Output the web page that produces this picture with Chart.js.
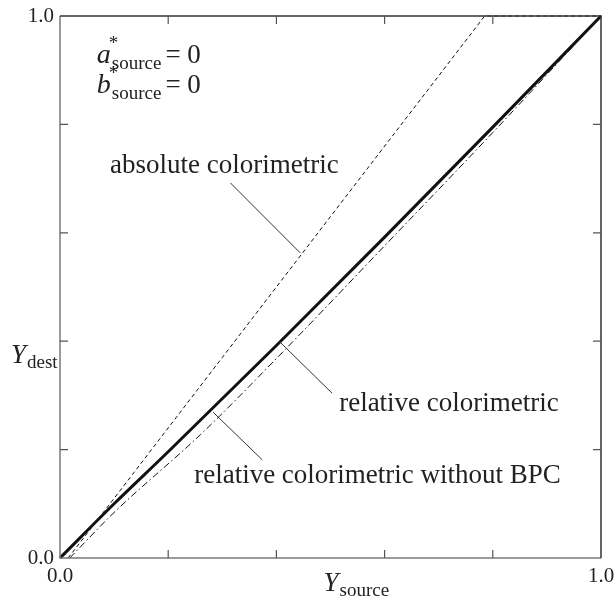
<!DOCTYPE html>
<html>
<head>
<meta charset="utf-8">
<script src="https://cdn.jsdelivr.net/npm/chart.js@4.4.0/dist/chart.umd.min.js"></script>
<style>
  html, body { margin: 0; padding: 0; background: #fff; }
</style>
</head>
<body>
<canvas id="myChart" width="615" height="601"></canvas>
<script>
// curves (Y_source -> Y_dest)
const absX = [0.015, 0.1, 0.3, 0.5, 0.785, 1.0];
const absY = [0, 0.11, 0.37, 0.63, 1.0, 1.0];

const relX = [0, 0.1, 0.2, 0.4, 0.6, 0.8, 1.0];
const relY = [0, 0.1, 0.196, 0.392, 0.592, 0.795, 1.0];

const noBpcX = [0.018, 0.1, 0.26, 0.4, 0.6, 0.8, 0.9, 1.0];
const noBpcY = [0, 0.084, 0.228, 0.368, 0.576, 0.785, 0.892, 1.0];

const tickVals = [0, 0.2, 0.4, 0.6, 0.8, 1.0];

const SERIF = '"Liberation Serif", "DejaVu Serif", serif';

function toPts(xs, ys) {
    return xs.map((x, i) => ({ x: x, y: ys[i] }));
}

// label + leader line positions, in data units
const notes = [
    { text: 'absolute colorimetric', at: [0.0925, 0.710], from: [0.315, 0.692], to: [0.444, 0.563] },
    { text: 'relative colorimetric', at: [0.516, 0.271], from: [0.503, 0.304], to: [0.405, 0.400] },
    { text: 'relative colorimetric without BPC', at: [0.248, 0.138], from: [0.374, 0.181], to: [0.283, 0.269] }
];

function subText(ctx, x, y, main, sup, sub, rest, size, subSize) {
    ctx.textAlign = 'left';
    ctx.textBaseline = 'alphabetic';
    ctx.font = 'italic ' + size + 'px ' + SERIF;
    ctx.fillText(main, x, y);
    let cx = x + ctx.measureText(main).width;
    ctx.font = subSize + 'px ' + SERIF;
    if (sup) {
        ctx.fillText(sup, cx - 2, y - size * 0.5);
    }
    ctx.fillText(sub, cx + 1, y + size * 0.2);
    cx += 1 + ctx.measureText(sub).width;
    if (rest) {
        ctx.font = Math.round(size * 0.95) + 'px ' + SERIF;
        ctx.fillText(rest, cx + 4, y);
    }
}

const framePlugin = {
    id: 'frame',
    afterDraw(chart) {
        const ctx = chart.ctx;
        const a = chart.chartArea;
        const xs = chart.scales.x, ys = chart.scales.y;
        ctx.save();
        ctx.lineWidth = 1.5;
        ctx.strokeStyle = '#7a7a7a';
        ctx.beginPath();
        ctx.moveTo(a.left, a.top);
        ctx.lineTo(a.left, a.bottom);
        ctx.lineTo(a.right, a.bottom);
        ctx.stroke();
        ctx.strokeStyle = '#333';
        ctx.beginPath();
        ctx.moveTo(a.left, a.top);
        ctx.lineTo(a.right, a.top);
        ctx.lineTo(a.right, a.bottom);
        ctx.stroke();

        // inward ticks on all four sides
        ctx.lineWidth = 1.2;
        ctx.strokeStyle = '#555';
        tickVals.slice(1, -1).forEach(v => {
            const px = xs.getPixelForValue(v);
            const py = ys.getPixelForValue(v);
            ctx.beginPath();
            ctx.moveTo(px, a.bottom); ctx.lineTo(px, a.bottom - 8);
            ctx.moveTo(px, a.top); ctx.lineTo(px, a.top + 8);
            ctx.moveTo(a.left, py); ctx.lineTo(a.left + 8, py);
            ctx.moveTo(a.right, py); ctx.lineTo(a.right - 8, py);
            ctx.stroke();
        });

        // leaders and labels
        ctx.fillStyle = '#222';
        ctx.strokeStyle = '#333';
        ctx.lineWidth = 1;
        notes.forEach(n => {
            ctx.beginPath();
            ctx.moveTo(xs.getPixelForValue(n.from[0]), ys.getPixelForValue(n.from[1]));
            ctx.lineTo(xs.getPixelForValue(n.to[0]), ys.getPixelForValue(n.to[1]));
            ctx.stroke();
            ctx.font = '27px ' + SERIF;
            ctx.textAlign = 'left';
            ctx.textBaseline = 'alphabetic';
            ctx.fillText(n.text, xs.getPixelForValue(n.at[0]), ys.getPixelForValue(n.at[1]));
        });

        subText(ctx, xs.getPixelForValue(0.068), ys.getPixelForValue(0.913), 'a', '*', 'source', '= 0', 28, 19);
        subText(ctx, xs.getPixelForValue(0.068), ys.getPixelForValue(0.858), 'b', '*', 'source', '= 0', 28, 19);

        // axis titles
        subText(ctx, 11, ys.getPixelForValue(0.36), 'Y', null, 'dest', null, 27, 19);
        subText(ctx, xs.getPixelForValue(0.487), 591, 'Y', null, 'source', null, 27, 19);
        ctx.restore();
    }
};

const data = {
    datasets: [
        {
            label: 'absolute colorimetric',
            data: toPts(absX, absY),
            borderColor: '#111',
            borderWidth: 1,
            borderDash: [4, 3],
            pointRadius: 0,
            showLine: true,
            clip: 4
        },
        {
            label: 'relative colorimetric without BPC',
            data: toPts(noBpcX, noBpcY),
            borderColor: '#111',
            borderWidth: 1,
            borderDash: [7, 3, 1.5, 3],
            pointRadius: 0,
            showLine: true,
            cubicInterpolationMode: 'monotone',
            clip: 4
        },
        {
            label: 'relative colorimetric',
            data: toPts(relX, relY),
            borderColor: '#111',
            borderWidth: 3,
            pointRadius: 0,
            showLine: true,
            cubicInterpolationMode: 'monotone',
            clip: 4
        }
    ]
};

const tickLabel = v => (Math.abs(v) < 1e-6 ? '0.0' : Math.abs(v - 1) < 1e-6 ? '1.0' : '');

const config = {
    type: 'scatter',
    data: data,
    options: {
        responsive: false,
        animation: false,
        layout: { padding: { left: 0, top: 16, right: 14, bottom: 0 } },
        plugins: { legend: { display: false }, tooltip: { enabled: false } },
        scales: {
            x: {
                type: 'linear', min: 0, max: 1,
                grid: { display: false, drawTicks: false, tickLength: 0 },
                border: { display: false },
                ticks: {
                    stepSize: 0.2, autoSkip: false, maxRotation: 0, padding: 6,
                    color: '#222', font: { family: SERIF, size: 21 },
                    callback: tickLabel
                },
                afterFit: s => { s.height = 43; s.paddingLeft = 0; s.paddingRight = 0; }
            },
            y: {
                type: 'linear', min: 0, max: 1,
                grid: { display: false, drawTicks: false, tickLength: 0 },
                border: { display: false },
                ticks: {
                    stepSize: 0.2, autoSkip: false, padding: 6,
                    color: '#222', font: { family: SERIF, size: 21 },
                    callback: tickLabel
                },
                afterFit: s => { s.width = 60; s.paddingTop = 0; s.paddingBottom = 0; }
            }
        }
    },
    plugins: [framePlugin]
};

const myChart = new Chart(document.getElementById('myChart').getContext('2d'), config);
</script>
</body>
</html>
